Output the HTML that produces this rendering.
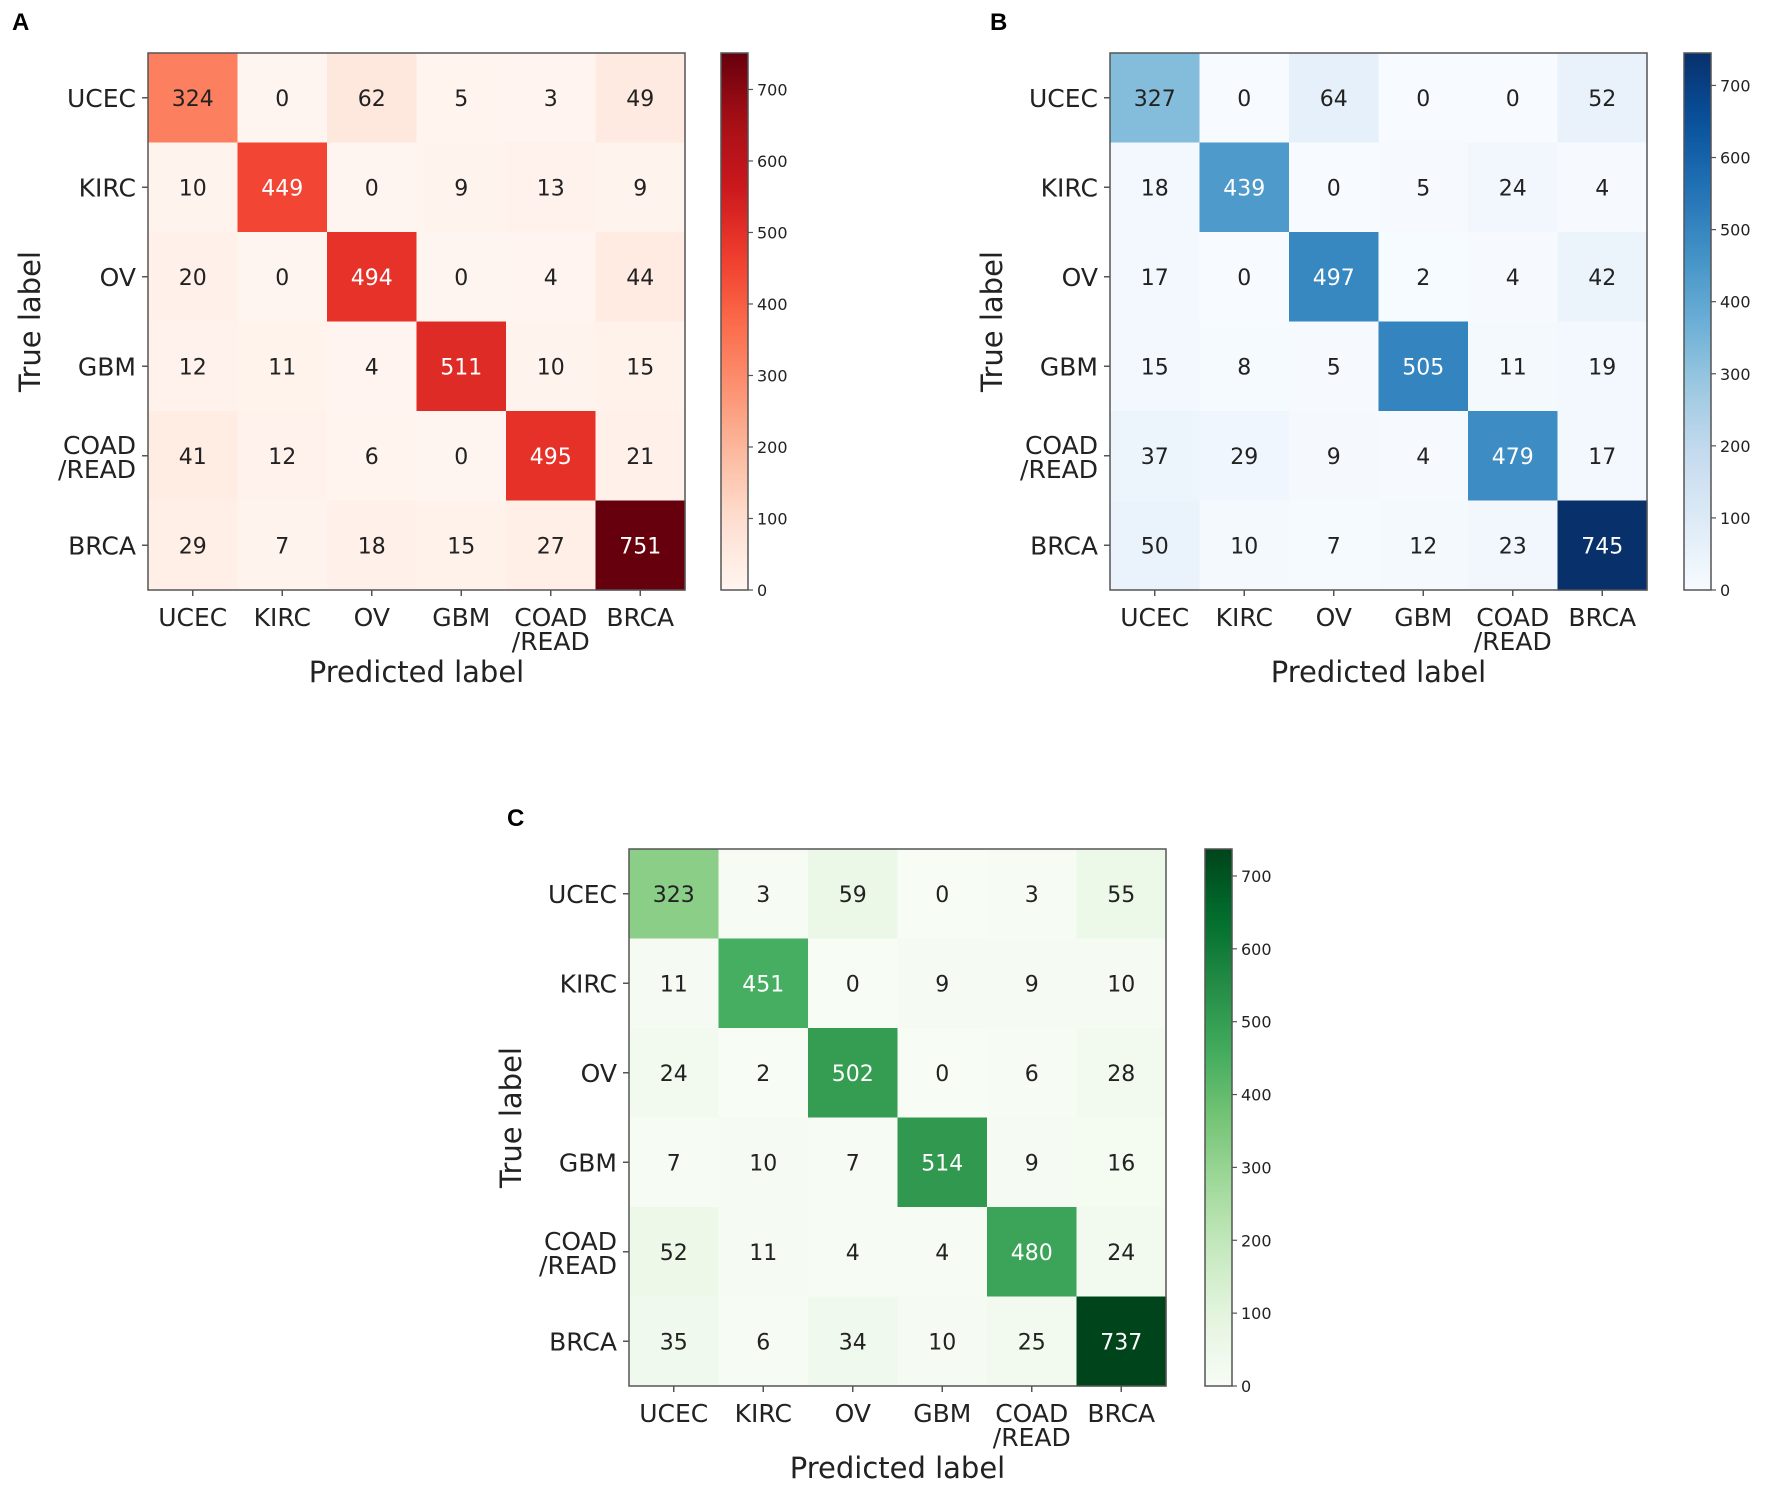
<!DOCTYPE html>
<html><head><meta charset="utf-8">
<style>
html,body{margin:0;padding:0;background:#fff;}
svg{display:block;font-family:"DejaVu Sans","Liberation Sans",sans-serif;}
</style></head>
<body>
<svg id="s" width="1772" height="1495" viewBox="0 0 1772 1495" xmlns="http://www.w3.org/2000/svg"></svg>
<script>
const labels=["UCEC","KIRC","OV","GBM","COAD\n/READ","BRCA"];
const cmaps={
R:["#fff5f0","#fee0d2","#fcbba1","#fc9272","#fb6a4a","#ef3b2c","#cb181d","#a50f15","#67000d"],
B:["#f7fbff","#deebf7","#c6dbef","#9ecae1","#6baed6","#4292c6","#2171b5","#08519c","#08306b"],
G:["#f7fcf5","#e5f5e0","#c7e9c0","#a1d99b","#74c476","#41ab5d","#238b45","#006d2c","#00441b"]};
function hx(h){return [1,3,5].map(i=>parseInt(h.substr(i,2),16));}
function col(c,t){t=Math.max(0,Math.min(1,t));const a=cmaps[c];const p=t*(a.length-1);const i=Math.min(a.length-2,Math.floor(p));const f=p-i;const A=hx(a[i]),B=hx(a[i+1]);return "rgb("+A.map((v,k)=>Math.round(v+(B[k]-v)*f)).join(",")+")";}
const panels=[
{c:"R",L:"A",lx:12,ly:30,x:148,y:53,cb:721,data:[[324,0,62,5,3,49],[10,449,0,9,13,9],[20,0,494,0,4,44],[12,11,4,511,10,15],[41,12,6,0,495,21],[29,7,18,15,27,751]]},
{c:"B",L:"B",lx:990,ly:30,x:1110,y:53,cb:1684,data:[[327,0,64,0,0,52],[18,439,0,5,24,4],[17,0,497,2,4,42],[15,8,5,505,11,19],[37,29,9,4,479,17],[50,10,7,12,23,745]]},
{c:"G",L:"C",lx:507,ly:826,x:629,y:849,cb:1205,data:[[323,3,59,0,3,55],[11,451,0,9,9,10],[24,2,502,0,6,28],[7,10,7,514,9,16],[52,11,4,4,480,24],[35,6,34,10,25,737]]}];
let o="";
const W=537,cs=W/6;
const lab='fill="#222"';
for(const p of panels){
 let mx=0;p.data.forEach(r=>r.forEach(v=>mx=Math.max(mx,v)));
 o+=`<text x="${p.lx}" y="${p.ly}" font-family="Liberation Sans,sans-serif" font-weight="bold" font-size="24" fill="#000">${p.L}</text>`;
 for(let i=0;i<6;i++)for(let j=0;j<6;j++){const v=p.data[i][j];
  o+=`<rect x="${p.x+j*cs}" y="${p.y+i*cs}" width="${cs+0.6}" height="${cs+0.6}" fill="${col(p.c,v/mx)}"/>`;
  o+=`<text x="${p.x+(j+0.5)*cs}" y="${p.y+(i+0.5)*cs+8}" text-anchor="middle" font-size="22" fill="${v>mx/2?'#fff':'#222'}">${v}</text>`;}
 o+=`<rect x="${p.x}" y="${p.y}" width="${W}" height="${W}" fill="none" stroke="#555" stroke-width="1.5"/>`;
 for(let i=0;i<6;i++){
  const cy=p.y+(i+0.5)*cs, cx=p.x+(i+0.5)*cs;
  o+=`<line x1="${p.x-6}" y1="${cy}" x2="${p.x}" y2="${cy}" stroke="#555" stroke-width="1.5"/>`;
  o+=`<line x1="${cx}" y1="${p.y+W}" x2="${cx}" y2="${p.y+W+6}" stroke="#555" stroke-width="1.5"/>`;
  const parts=labels[i].split("\n");
  if(parts.length==1){o+=`<text x="${p.x-12}" y="${cy+9}" text-anchor="end" font-size="25" ${lab}>${parts[0]}</text>`;
   o+=`<text x="${cx}" y="${p.y+W+36}" text-anchor="middle" font-size="25" ${lab}>${parts[0]}</text>`;}
  else{o+=`<text x="${p.x-12}" y="${cy-2}" text-anchor="end" font-size="25" ${lab}>${parts[0]}</text><text x="${p.x-12}" y="${cy+22}" text-anchor="end" font-size="25" ${lab}>${parts[1]}</text>`;
   o+=`<text x="${cx}" y="${p.y+W+36}" text-anchor="middle" font-size="25" ${lab}>${parts[0]}</text><text x="${cx}" y="${p.y+W+60}" text-anchor="middle" font-size="25" ${lab}>${parts[1]}</text>`;}
 }
 o+=`<text x="${p.x+W/2}" y="${p.y+W+92}" text-anchor="middle" font-size="29" ${lab}>Predicted label</text>`;
 const ty=p.y+W/2, tx=p.x-108;
 o+=`<text transform="translate(${tx},${ty}) rotate(-90)" text-anchor="middle" font-size="29" ${lab}>True label</text>`;
 // colorbar
 const gid="g"+p.c;
 o+=`<defs><linearGradient id="${gid}" x1="0" y1="1" x2="0" y2="0">`;
 for(let k=0;k<=20;k++)o+=`<stop offset="${k/20}" stop-color="${col(p.c,k/20)}"/>`;
 o+=`</linearGradient></defs>`;
 o+=`<rect x="${p.cb}" y="${p.y}" width="27" height="${W}" fill="url(#${gid})" stroke="#555" stroke-width="1.5"/>`;
 for(let t=0;t<=700;t+=100){const yy=p.y+W-t/mx*W;
  o+=`<line x1="${p.cb+27}" y1="${yy}" x2="${p.cb+32}" y2="${yy}" stroke="#555" stroke-width="1.2"/>`;
  o+=`<text x="${p.cb+36}" y="${yy+6}" font-size="16" ${lab}>${t}</text>`;}
}
document.getElementById("s").innerHTML=o;
</script>
</body></html>
